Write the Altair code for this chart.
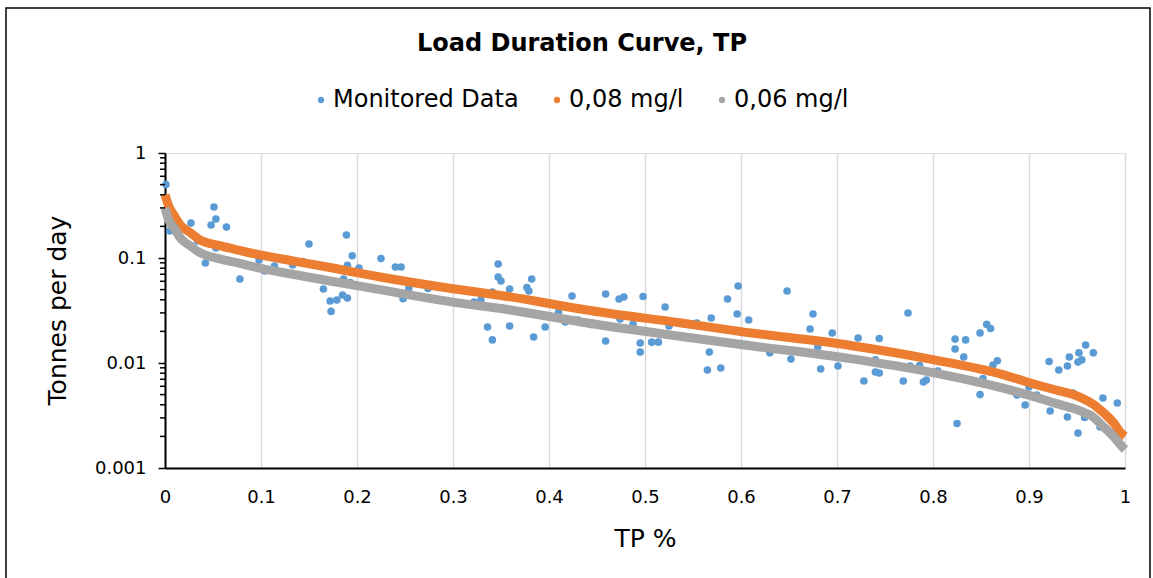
import altair as alt
import pandas as pd

# ---- Monitored data (TP exceedance fraction, tonnes per day) ----
mon_x = [0.001, 0.051, 0.053, 0.048, 0.064, 0.027, 0.005, 0.034, 0.053, 0.042,
         0.059, 0.078, 0.098, 0.104, 0.114, 0.133, 0.144, 0.150, 0.165, 0.172,
         0.173, 0.179, 0.185, 0.190, 0.186, 0.193, 0.189, 0.195, 0.190, 0.202,
         0.225, 0.240, 0.246, 0.248, 0.254, 0.274, 0.322, 0.329, 0.336, 0.341,
         0.347, 0.347, 0.350, 0.359, 0.359, 0.341, 0.382, 0.377, 0.379, 0.384,
         0.396, 0.410, 0.424, 0.417, 0.430, 0.459, 0.473, 0.478, 0.498, 0.459,
         0.474, 0.4875, 0.495, 0.495, 0.507, 0.514, 0.521, 0.525, 0.535, 0.554,
         0.565, 0.567, 0.569, 0.579, 0.586, 0.597, 0.596, 0.608, 0.630, 0.648,
         0.652, 0.672, 0.675, 0.680, 0.683, 0.695, 0.701, 0.722, 0.744, 0.728,
         0.740, 0.740, 0.744, 0.769, 0.774, 0.776, 0.786, 0.790, 0.793, 0.805,
         0.823, 0.823, 0.834, 0.832, 0.825, 0.849, 0.856, 0.860, 0.849, 0.852,
         0.8625, 0.867, 0.8875, 0.896, 0.900, 0.908, 0.922, 0.921, 0.931, 0.940,
         0.940, 0.942, 0.946, 0.951, 0.952, 0.959, 0.951, 0.955, 0.967, 0.958,
         0.974, 0.977, 0.992]
mon_y = [0.50, 0.306, 0.235, 0.206, 0.197, 0.215, 0.181, 0.145, 0.1245, 0.0896,
         0.0978, 0.0631, 0.0957, 0.0752, 0.0839, 0.0858, 0.0926, 0.136, 0.0507, 0.0390,
         0.0310, 0.0398, 0.0444, 0.0416, 0.0631, 0.0585, 0.1657, 0.105, 0.085, 0.0803,
         0.0989, 0.0821, 0.0821, 0.041, 0.0518, 0.0512, 0.0381, 0.0398, 0.0220, 0.0166,
         0.0877, 0.0659, 0.0604, 0.0507, 0.0225, 0.0475, 0.0631, 0.0523, 0.0485, 0.0177,
         0.0220, 0.0306, 0.0435, 0.0246, 0.0257, 0.0454, 0.0407, 0.0425, 0.0430, 0.0162,
         0.0262, 0.0235, 0.0155, 0.0127, 0.0158, 0.0158, 0.0341, 0.0225, 0.0240, 0.0240,
         0.00858, 0.0127, 0.0268, 0.00896, 0.0407, 0.0541, 0.0293, 0.0257, 0.0125, 0.0485,
         0.0109, 0.0211, 0.0293, 0.0142, 0.00877, 0.0193, 0.00936, 0.0173, 0.0171, 0.00674,
         0.0107, 0.00821, 0.00803, 0.00674, 0.0299, 0.00936, 0.00946, 0.00659, 0.00689, 0.00839,
         0.0169, 0.0136, 0.0166, 0.0114, 0.00265, 0.0193, 0.0233, 0.0213, 0.0050, 0.00712,
         0.00957, 0.0105, 0.00496, 0.00398, 0.0059, 0.00496, 0.00349, 0.01033, 0.00858, 0.00306,
         0.00936, 0.0114, 0.00518, 0.00215, 0.0125, 0.0148, 0.0102, 0.0107, 0.0125, 0.00303,
         0.00246, 0.00464, 0.00416]

# ---- 0,08 mg/l load duration curve ----
c08_x = [0.000, 0.004, 0.010, 0.016, 0.026, 0.036, 0.057, 0.078, 0.099, 0.133,
         0.169, 0.224, 0.300, 0.350, 0.453, 0.536, 0.600, 0.714, 0.797, 0.872,
         0.898, 0.929, 0.946, 0.960, 0.966, 0.977, 0.988, 0.997, 1.000]
c08_y = [0.40, 0.31, 0.25, 0.206, 0.175, 0.150, 0.131, 0.118, 0.107, 0.094,
         0.082, 0.066, 0.051, 0.044, 0.0306, 0.0242, 0.0199, 0.0147, 0.0109, 0.0078,
         0.0066, 0.0055, 0.0050, 0.0044, 0.0041, 0.0034, 0.0027, 0.0021, 0.0020]

# ---- 0,06 mg/l load duration curve ----
c06_x = [0.000, 0.004, 0.010, 0.016, 0.026, 0.036, 0.057, 0.078, 0.099, 0.133,
         0.169, 0.224, 0.300, 0.350, 0.453, 0.536, 0.600, 0.714, 0.797, 0.872,
         0.898, 0.929, 0.946, 0.960, 0.966, 0.977, 0.988, 0.997, 1.000]
c06_y = [0.30, 0.23, 0.19, 0.155, 0.131, 0.113, 0.098, 0.089, 0.080, 0.070,
         0.061, 0.050, 0.038, 0.033, 0.023, 0.018, 0.015, 0.011, 0.0082, 0.0058,
         0.0050, 0.0041, 0.0037, 0.0033, 0.0031, 0.0025, 0.0020, 0.0016, 0.0015]

series_names = ["Monitored Data", "0,08 mg/l", "0,06 mg/l"]
series_colors = ["#5B9BD5", "#ED7D31", "#A5A5A5"]

chart_title = ["Load Duration Curve, TP"]

x_ticks = [0, 0.1, 0.2, 0.3, 0.4, 0.5, 0.6, 0.7, 0.8, 0.9, 1]
y_ticks = [0.001, 0.01, 0.1, 1]
y_minor = [0.002, 0.003, 0.004, 0.005, 0.006, 0.007, 0.008, 0.009,
           0.02, 0.03, 0.04, 0.05, 0.06, 0.07, 0.08, 0.09,
           0.2, 0.3, 0.4, 0.5, 0.6, 0.7, 0.8, 0.9]

FONT = "DejaVu Sans"

df_mon = pd.DataFrame({"x": mon_x, "y": mon_y, "series": series_names[0]})
df_08 = pd.DataFrame({"x": c08_x, "y": c08_y})
df_06 = pd.DataFrame({"x": c06_x, "y": c06_y})
df_minor = pd.DataFrame({"y": y_minor})
df_title = pd.DataFrame({"t": chart_title})

xscale = alt.Scale(domain=[0, 1], nice=False, zero=False)
yscale = alt.Scale(type="log", domain=[0.001, 1], nice=False)

xaxis = alt.Axis(values=x_ticks, format="~g", grid=True, gridColor="#D9D9D9",
                 gridWidth=1.5, ticks=False, tickSize=0, domainColor="black",
                 domainWidth=2, labelFontSize=18, labelPadding=20, labelColor="black",
                 labelFlush=False, labelFont=FONT, titleFont=FONT, titleFontSize=25,
                 titleFontWeight="normal", titleColor="black",
                 titleX=480, titleY=70, titleBaseline="middle", titleAlign="center")
yaxis = alt.Axis(values=y_ticks, format="~g", grid=False, ticks=True, tickSize=7,
                 tickWidth=1.5, tickColor="black", domainColor="black", domainWidth=2,
                 labelFontSize=18, labelPadding=12, labelColor="black", labelFont=FONT,
                 labelFlush=False,
                 titleFont=FONT, titleFontSize=25, titleFontWeight="normal",
                 titleColor="black", titleX=-108, titleY=157, titleAngle=270,
                 titleBaseline="middle", titleAlign="center")

X = alt.X("x:Q", scale=xscale, axis=xaxis, title="TP %")
Y = alt.Y("y:Q", scale=yscale, axis=yaxis, title="Tonnes per day")

points = alt.Chart(df_mon).mark_circle(size=58, opacity=1).encode(
    x=X, y=Y,
    color=alt.Color("series:N",
                    scale=alt.Scale(domain=series_names, range=series_colors),
                    legend=alt.Legend(title=None, orient="none", legendX=144, legendY=-65,
                                      direction="horizontal", columns=3,
                                      symbolType="circle", symbolSize=40,
                                      symbolStrokeWidth=0, symbolOpacity=1,
                                      labelFontSize=24, labelFont=FONT, labelLimit=400,
                                      labelColor="black", labelOffset=0,
                                      columnPadding=26)),
)

line08 = alt.Chart(df_08).mark_line(strokeWidth=9, color=series_colors[1],
                                    strokeCap="butt", interpolate="monotone").encode(x=X, y=Y)
line06 = alt.Chart(df_06).mark_line(strokeWidth=9, color=series_colors[2],
                                    strokeCap="butt", interpolate="monotone").encode(x=X, y=Y)

minor = alt.Chart(df_minor).mark_rule(color="black", strokeWidth=1.5).encode(
    y=Y, x=alt.value(-5), x2=alt.value(0))

frame = alt.Chart(pd.DataFrame({"k": [0]})).mark_rect(
    filled=False, stroke="black", strokeWidth=1.5).encode(
    x=alt.value(-159), x2=alt.value(985), y=alt.value(-145), y2=alt.value(440))

title = alt.Chart(df_title).mark_text(
    font=FONT, fontSize=24, fontWeight="bold", color="black",
    align="center", baseline="middle").encode(
    text="t:N", x=alt.value(417), y=alt.value(-109))

chart = alt.layer(points, line08, line06, minor, frame, title).properties(
    width=960, height=315,
    padding={"left": 165, "top": 153, "right": 28, "bottom": 110},
    autosize=alt.AutoSizeParams(type="none"),
).configure_view(stroke="black", strokeWidth=2).configure(font=FONT, background="white")

chart.save("out.html", embed_options={"renderer": "svg", "actions": False})
